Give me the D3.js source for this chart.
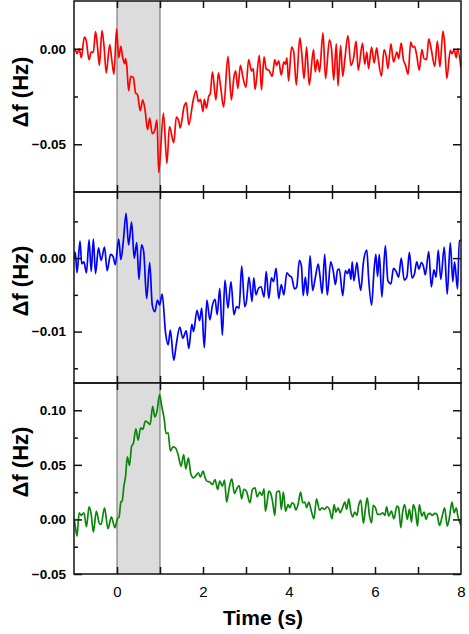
<!DOCTYPE html>
<html>
<head>
<meta charset="utf-8">
<script src="https://cdn.jsdelivr.net/npm/d3@7"></script>
<style>
  body { margin: 0; background: #fff; }
  svg { display: block; }
</style>
</head>
<body>
<svg id="chart" width="469" height="634"></svg>
<script>
// [time (s), delta f (Hz)]
const redData = [[-1.00,0.0000],[-0.97,-0.0005],[-0.93,-0.0026],[-0.88,0.0000],[-0.83,-0.0047],[-0.76,0.0061],[-0.72,0.0047],[-0.65,-0.0057],[-0.60,-0.0017],[-0.55,-0.0019],[-0.50,0.0090],[-0.46,0.0026],[-0.41,-0.0087],[-0.35,0.0095],[-0.30,0.0009],[-0.25,-0.0126],[-0.17,0.0022],[-0.12,-0.0061],[-0.07,-0.0133],[-0.01,0.0104],[0.04,-0.0047],[0.09,0.0012],[0.13,-0.0043],[0.18,-0.0078],[0.20,-0.0052],[0.23,-0.0095],[0.27,-0.0220],[0.32,-0.0144],[0.38,-0.0151],[0.43,-0.0230],[0.48,-0.0242],[0.54,-0.0324],[0.60,-0.0268],[0.66,-0.0334],[0.71,-0.0424],[0.76,-0.0363],[0.82,-0.0445],[0.88,-0.0427],[0.93,-0.0372],[0.97,-0.0649],[1.08,-0.0337],[1.16,-0.0600],[1.22,-0.0407],[1.32,-0.0493],[1.38,-0.0358],[1.44,-0.0381],[1.47,-0.0415],[1.56,-0.0303],[1.61,-0.0282],[1.67,-0.0398],[1.77,-0.0272],[1.84,-0.0220],[1.89,-0.0277],[1.94,-0.0265],[2.00,-0.0329],[2.03,-0.0265],[2.08,-0.0311],[2.13,-0.0251],[2.17,-0.0234],[2.22,-0.0121],[2.30,-0.0268],[2.36,-0.0126],[2.41,-0.0199],[2.48,-0.0306],[2.58,-0.0040],[2.66,-0.0268],[2.72,-0.0147],[2.76,-0.0116],[2.81,-0.0208],[2.87,-0.0087],[2.93,-0.0151],[3.00,-0.0202],[3.06,-0.0057],[3.13,-0.0116],[3.17,-0.0104],[3.21,-0.0213],[3.31,-0.0035],[3.36,-0.0216],[3.42,-0.0043],[3.47,-0.0106],[3.53,-0.0112],[3.61,-0.0144],[3.67,-0.0057],[3.71,-0.0087],[3.76,-0.0064],[3.82,-0.0138],[3.88,-0.0069],[3.92,-0.0081],[3.95,-0.0047],[3.99,-0.0168],[4.06,0.0009],[4.11,-0.0017],[4.17,-0.0190],[4.25,0.0057],[4.29,-0.0009],[4.35,-0.0156],[4.41,0.0009],[4.47,-0.0190],[4.57,-0.0005],[4.61,-0.0121],[4.66,-0.0057],[4.71,-0.0121],[4.79,0.0083],[4.85,-0.0156],[4.94,0.0047],[4.99,-0.0005],[5.04,-0.0164],[5.10,0.0026],[5.14,-0.0195],[5.20,0.0017],[5.25,-0.0144],[5.30,-0.0052],[5.37,0.0069],[5.44,-0.0087],[5.50,-0.0052],[5.56,0.0040],[5.61,-0.0112],[5.71,0.0029],[5.76,-0.0081],[5.81,-0.0017],[5.85,-0.0104],[5.92,0.0009],[5.98,-0.0074],[6.04,0.0005],[6.07,-0.0043],[6.15,-0.0144],[6.21,-0.0005],[6.26,-0.0040],[6.30,-0.0104],[6.37,0.0026],[6.43,-0.0069],[6.51,-0.0017],[6.55,-0.0052],[6.61,0.0029],[6.66,-0.0057],[6.71,-0.0087],[6.77,-0.0133],[6.83,0.0035],[6.88,0.0009],[6.92,0.0012],[6.97,-0.0035],[7.03,-0.0112],[7.09,-0.0005],[7.14,-0.0052],[7.20,-0.0057],[7.25,0.0052],[7.31,-0.0005],[7.39,-0.0092],[7.45,0.0040],[7.51,-0.0095],[7.58,0.0092],[7.62,0.0026],[7.67,-0.0156],[7.75,-0.0009],[7.79,-0.0026],[7.84,-0.0005],[7.89,-0.0047],[7.92,0.0000],[8.00,-0.0104]];

const blueData = [[-1.00,0.0000],[-0.97,0.0008],[-0.93,-0.0020],[-0.86,0.0023],[-0.82,-0.0008],[-0.77,-0.0005],[-0.71,-0.0020],[-0.65,0.0025],[-0.60,-0.0018],[-0.55,0.0026],[-0.50,-0.0021],[-0.43,0.0014],[-0.37,-0.0003],[-0.29,0.0015],[-0.23,-0.0017],[-0.15,0.0005],[-0.09,0.0002],[-0.04,-0.0009],[0.04,0.0026],[0.09,-0.0002],[0.15,0.0025],[0.21,0.0061],[0.27,0.0018],[0.34,0.0049],[0.40,0.0000],[0.46,0.0021],[0.51,-0.0029],[0.57,0.0018],[0.62,0.0009],[0.69,-0.0055],[0.76,-0.0006],[0.82,-0.0064],[0.88,-0.0073],[0.94,-0.0057],[0.99,-0.0064],[1.05,-0.0049],[1.13,-0.0102],[1.19,-0.0118],[1.24,-0.0098],[1.32,-0.0139],[1.38,-0.0117],[1.46,-0.0094],[1.53,-0.0109],[1.61,-0.0099],[1.67,-0.0123],[1.74,-0.0090],[1.78,-0.0100],[1.86,-0.0071],[1.92,-0.0085],[1.97,-0.0068],[2.03,-0.0122],[2.09,-0.0057],[2.16,-0.0084],[2.22,-0.0064],[2.28,-0.0056],[2.33,-0.0077],[2.39,-0.0041],[2.45,-0.0105],[2.51,-0.0030],[2.58,-0.0068],[2.65,-0.0032],[2.72,-0.0077],[2.78,-0.0066],[2.84,-0.0068],[2.90,-0.0011],[2.97,-0.0066],[3.01,-0.0059],[3.07,-0.0026],[3.14,-0.0059],[3.18,-0.0027],[3.23,-0.0050],[3.29,-0.0041],[3.35,-0.0039],[3.42,-0.0053],[3.47,-0.0018],[3.53,-0.0055],[3.59,-0.0027],[3.64,-0.0032],[3.70,-0.0014],[3.76,-0.0055],[3.82,-0.0036],[3.88,-0.0050],[3.95,-0.0020],[4.01,-0.0024],[4.06,-0.0026],[4.13,-0.0042],[4.18,-0.0039],[4.24,-0.0003],[4.29,-0.0011],[4.33,-0.0051],[4.38,-0.0026],[4.43,-0.0051],[4.49,0.0003],[4.55,-0.0044],[4.61,-0.0027],[4.68,-0.0008],[4.72,-0.0024],[4.77,-0.0048],[4.83,0.0005],[4.89,-0.0050],[4.97,-0.0005],[5.03,-0.0018],[5.08,-0.0036],[5.13,-0.0016],[5.17,-0.0015],[5.25,-0.0051],[5.31,-0.0017],[5.36,-0.0021],[5.40,-0.0015],[5.44,-0.0029],[5.47,-0.0005],[5.51,-0.0031],[5.58,-0.0006],[5.62,-0.0026],[5.67,-0.0044],[5.73,-0.0006],[5.81,0.0011],[5.85,-0.0026],[5.92,-0.0064],[5.98,-0.0015],[6.02,0.0005],[6.06,-0.0025],[6.10,0.0005],[6.16,-0.0053],[6.24,0.0017],[6.30,-0.0031],[6.37,-0.0035],[6.43,-0.0014],[6.49,-0.0018],[6.55,-0.0026],[6.61,0.0000],[6.68,-0.0030],[6.74,-0.0026],[6.80,0.0008],[6.86,-0.0027],[6.92,-0.0021],[6.97,-0.0005],[7.02,-0.0015],[7.08,-0.0006],[7.13,-0.0012],[7.17,-0.0023],[7.25,0.0009],[7.31,-0.0039],[7.37,-0.0016],[7.42,-0.0026],[7.47,0.0011],[7.53,-0.0029],[7.61,0.0015],[7.68,-0.0049],[7.75,0.0021],[7.81,-0.0032],[7.85,-0.0005],[7.92,-0.0042],[7.96,0.0024],[8.00,0.0024]];

const greenData = [[-1.00,0.0006],[-0.97,-0.0061],[-0.93,-0.0153],[-0.88,0.0061],[-0.83,0.0037],[-0.77,0.0061],[-0.71,-0.0067],[-0.65,0.0116],[-0.60,0.0046],[-0.55,-0.0116],[-0.48,0.0076],[-0.41,-0.0037],[-0.37,-0.0046],[-0.29,0.0107],[-0.21,-0.0085],[-0.13,0.0024],[-0.05,-0.0076],[0.01,0.0006],[0.05,0.0024],[0.09,0.0159],[0.12,0.0168],[0.16,0.0305],[0.20,0.0397],[0.24,0.0573],[0.29,0.0494],[0.34,0.0671],[0.38,0.0695],[0.44,0.0830],[0.49,0.0726],[0.55,0.0839],[0.60,0.0824],[0.66,0.0900],[0.71,0.0891],[0.77,0.0869],[0.83,0.1037],[0.88,0.0939],[0.93,0.0991],[0.99,0.1144],[1.04,0.1037],[1.10,0.0915],[1.14,0.0787],[1.19,0.0793],[1.24,0.0625],[1.30,0.0665],[1.36,0.0656],[1.42,0.0595],[1.49,0.0488],[1.55,0.0595],[1.60,0.0464],[1.66,0.0564],[1.72,0.0412],[1.78,0.0381],[1.84,0.0403],[1.89,0.0427],[1.94,0.0390],[2.00,0.0442],[2.05,0.0381],[2.09,0.0351],[2.16,0.0342],[2.22,0.0320],[2.28,0.0366],[2.34,0.0275],[2.39,0.0351],[2.45,0.0305],[2.50,0.0360],[2.55,0.0159],[2.61,0.0290],[2.67,0.0372],[2.73,0.0238],[2.78,0.0275],[2.84,0.0311],[2.90,0.0189],[2.95,0.0275],[3.01,0.0259],[3.09,0.0153],[3.15,0.0275],[3.21,0.0290],[3.26,0.0207],[3.32,0.0250],[3.37,0.0220],[3.42,0.0281],[3.45,0.0076],[3.49,0.0153],[3.53,0.0259],[3.57,0.0244],[3.62,0.0159],[3.67,0.0037],[3.71,0.0250],[3.78,0.0259],[3.82,0.0092],[3.87,0.0250],[3.92,0.0076],[3.98,0.0137],[4.02,0.0107],[4.07,0.0153],[4.12,0.0137],[4.16,0.0085],[4.21,0.0137],[4.27,0.0250],[4.32,0.0153],[4.37,0.0159],[4.41,0.0107],[4.46,0.0159],[4.52,0.0076],[4.58,0.0006],[4.64,0.0189],[4.71,0.0085],[4.77,0.0107],[4.83,0.0092],[4.88,0.0116],[4.94,0.0092],[5.00,0.0006],[5.05,0.0137],[5.09,0.0067],[5.14,0.0107],[5.19,0.0061],[5.23,0.0092],[5.30,0.0159],[5.34,0.0092],[5.39,0.0189],[5.44,0.0067],[5.48,0.0024],[5.53,0.0067],[5.58,0.0037],[5.62,0.0128],[5.67,0.0177],[5.73,-0.0037],[5.78,0.0107],[5.82,0.0198],[5.87,0.0037],[5.92,-0.0031],[5.96,0.0128],[6.01,0.0107],[6.06,0.0046],[6.12,0.0046],[6.18,0.0061],[6.23,0.0037],[6.27,0.0116],[6.32,0.0031],[6.38,0.0076],[6.44,0.0006],[6.51,0.0122],[6.55,0.0107],[6.60,-0.0076],[6.64,0.0061],[6.69,0.0137],[6.75,0.0000],[6.80,0.0092],[6.85,-0.0024],[6.89,0.0137],[6.94,0.0076],[6.99,-0.0061],[7.03,0.0137],[7.09,0.0031],[7.14,0.0067],[7.19,0.0000],[7.23,0.0046],[7.28,0.0055],[7.33,0.0037],[7.39,0.0055],[7.44,0.0046],[7.50,-0.0055],[7.56,0.0024],[7.62,0.0107],[7.68,-0.0061],[7.73,0.0015],[7.79,0.0159],[7.84,0.0061],[7.89,0.0107],[7.93,0.0024],[8.00,-0.0055]];

// axes / ticks
const timeDomain = [-1, 8];
const stimulus = [0, 1];             // shaded stimulus window (s)
const xTicks = [0, 1, 2, 3, 4, 5, 6, 7];
const xTickLabels = [0, 2, 4, 6, 8];

const redDomain = [-0.075, 0.025], redMajor = [0, -0.05], redMinor = [-0.025];
const blueDomain = [-0.017, 0.009], blueMajor = [0, -0.01], blueMinor = [0.005, -0.005, -0.015];
const greenDomain = [-0.05, 0.125], greenMajor = [-0.05, 0, 0.05, 0.10], greenMinor = [-0.025, 0.025, 0.075];

const panels = [
  {data: redData,   color: "#ff0000", domain: redDomain,   major: redMajor,   minor: redMinor,   labelY: 92},
  {data: blueData,  color: "#0000ff", domain: blueDomain,  major: blueMajor,  minor: blueMinor,  labelY: 281},
  {data: greenData, color: "#0a870a", domain: greenDomain, major: greenMajor, minor: greenMinor, labelY: 462}
];

const svg = d3.select("#chart");
const left = 74, right = 461, top0 = 1, ph = 191;
const font = "'Liberation Sans', Arial, Helvetica, sans-serif";

const x = d3.scaleLinear().domain(timeDomain).range([left, right]);

panels.forEach((p, i) => {
  const y0 = top0 + i * ph, y1 = y0 + ph;
  const y = d3.scaleLinear().domain(p.domain).range([y1, y0]);
  const g = svg.append("g");

  // shaded stimulus window
  g.append("rect")
    .attr("x", x(stimulus[0])).attr("y", y0)
    .attr("width", x(stimulus[1]) - x(stimulus[0])).attr("height", ph)
    .attr("fill", "#dcdcdc");
  g.selectAll("line.stim")
    .data(stimulus)
    .enter().append("line")
      .attr("class", "stim")
      .attr("x1", d => x(d)).attr("x2", d => x(d))
      .attr("y1", y0).attr("y2", y1)
      .attr("stroke", "#666").attr("stroke-width", 1);

  // trace
  svg.append("clipPath").attr("id", "clip" + i)
    .append("rect").attr("x", left).attr("y", y0).attr("width", right - left).attr("height", ph);
  g.append("path")
    .datum(p.data)
    .attr("clip-path", `url(#clip${i})`)
    .attr("fill", "none")
    .attr("stroke", p.color)
    .attr("stroke-width", 1.7)
    .attr("stroke-linejoin", "round")
    .attr("d", d3.line().x(d => x(d[0])).y(d => y(d[1])).curve(d3.curveMonotoneX));

  // y axis left: labelled ticks + minor ticks
  g.append("g")
    .attr("transform", `translate(${left},0)`)
    .call(d3.axisLeft(y).tickValues(p.major).tickSize(-8).tickPadding(8).tickFormat(d3.format(".2f")))
    .call(a => a.select(".domain").remove())
    .selectAll("text")
    .style("font-family", font).style("font-size", "13.5px").style("font-weight", "bold").style("fill", "#000");
  g.append("g")
    .attr("transform", `translate(${left},0)`)
    .call(d3.axisLeft(y).tickValues(p.minor).tickSize(-4).tickFormat(""))
    .call(a => a.select(".domain").remove());

  // y axis right (ticks only)
  g.append("g")
    .attr("transform", `translate(${right},0)`)
    .call(d3.axisRight(y).tickValues(p.major).tickSize(-8).tickFormat(""))
    .call(a => a.select(".domain").remove());
  g.append("g")
    .attr("transform", `translate(${right},0)`)
    .call(d3.axisRight(y).tickValues(p.minor).tickSize(-4).tickFormat(""))
    .call(a => a.select(".domain").remove());

  // x ticks top and bottom, pointing inward
  g.append("g")
    .attr("transform", `translate(0,${y0})`)
    .call(d3.axisTop(x).tickValues(xTicks).tickSize(-7).tickFormat(""))
    .call(a => a.select(".domain").remove());
  g.append("g")
    .attr("transform", `translate(0,${y1})`)
    .call(d3.axisBottom(x).tickValues(xTicks).tickSize(-7).tickFormat(""))
    .call(a => a.select(".domain").remove());

  g.selectAll(".tick line").attr("stroke", "#111").attr("stroke-width", 1.5);

  // frame
  g.append("rect")
    .attr("x", left).attr("y", y0).attr("width", right - left).attr("height", ph)
    .attr("fill", "none").attr("stroke", "#111").attr("stroke-width", 1.5);

  // y title
  g.append("text")
    .attr("transform", `translate(28,${p.labelY}) rotate(-90)`)
    .attr("text-anchor", "middle")
    .style("font-family", font).style("font-size", "22px").style("font-weight", "bold")
    .text("\u0394f (Hz)");
});

// bottom tick labels + title
const yBottom = top0 + 3 * ph;
svg.append("g")
  .attr("transform", `translate(0,${yBottom})`)
  .call(d3.axisBottom(x).tickValues(xTickLabels).tickSize(0).tickPadding(12).tickFormat(d3.format("d")))
  .call(a => a.select(".domain").remove())
  .selectAll("text")
  .style("font-family", font).style("font-size", "15px").style("fill", "#000");

svg.append("text")
  .attr("x", 263).attr("y", 625)
  .attr("text-anchor", "middle")
  .style("font-family", font).style("font-size", "21px").style("font-weight", "bold")
  .text("Time (s)");
</script>
</body>
</html>
